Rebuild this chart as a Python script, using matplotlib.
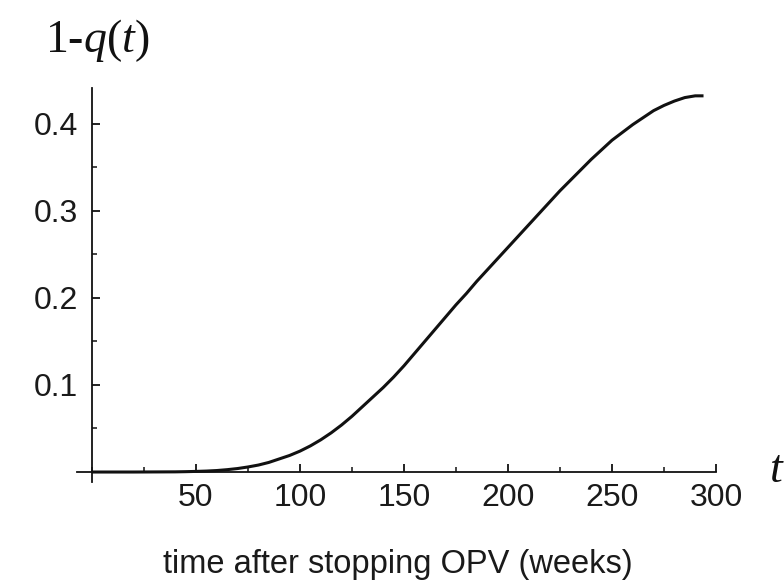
import matplotlib
matplotlib.use("Agg")
import matplotlib.pyplot as plt
from matplotlib.ticker import MultipleLocator

# values
t_weeks = [0, 20, 40, 45, 50, 55, 60, 65, 70, 75, 80, 85, 90, 95, 100, 105, 110,
           115, 120, 125, 130, 135, 140, 145, 150, 155, 160, 165, 170, 175, 180,
           185, 190, 195, 200, 205, 210, 215, 220, 225, 230, 235, 240, 245, 250,
           255, 260, 265, 270, 275, 280, 285, 290, 294]
one_minus_q = [0.0, 0.0, 0.0002, 0.0004, 0.0007, 0.0011, 0.0017, 0.0027, 0.004,
               0.0058, 0.008, 0.011, 0.015, 0.019, 0.024, 0.030, 0.037, 0.045,
               0.054, 0.064, 0.075, 0.086, 0.097, 0.109, 0.122, 0.136, 0.150,
               0.164, 0.178, 0.192, 0.205, 0.219, 0.232, 0.245, 0.258, 0.271,
               0.284, 0.297, 0.310, 0.323, 0.335, 0.347, 0.359, 0.370, 0.381,
               0.390, 0.399, 0.407, 0.415, 0.421, 0.426, 0.430, 0.432, 0.432]

x_major = [50, 100, 150, 200, 250, 300]
y_major = [0.1, 0.2, 0.3, 0.4]

plt.rcParams['mathtext.fontset'] = 'custom'
plt.rcParams['mathtext.rm'] = 'Liberation Serif'
plt.rcParams['mathtext.it'] = 'Liberation Serif:italic'

fig = plt.figure(figsize=(7.84, 5.83), dpi=100)
# axes placed so that data (0,0) lands near pixel (92, 472)
ax = fig.add_axes([77.4 / 784, (583 - 481.6) / 583, (716 - 77.4) / 784, (481.6 - 88) / 583])

ax.plot(t_weeks, one_minus_q, color='#111111', lw=2.2, solid_capstyle='butt',
        solid_joinstyle='round')

ax.set_xlim(-7, 300)
ax.set_ylim(-0.011, 0.441)

for s in ['top', 'right']:
    ax.spines[s].set_visible(False)
ax.spines['left'].set_position(('data', 0))
ax.spines['bottom'].set_position(('data', 0))
for s in ['left', 'bottom']:
    ax.spines[s].set_linewidth(1.3)
    ax.spines[s].set_color('#111111')

ax.set_xticks(x_major)
ax.set_xticklabels([str(v) for v in x_major])
ax.set_yticks(y_major)
ax.set_yticklabels([str(v) for v in y_major])
ax.xaxis.set_minor_locator(MultipleLocator(25))
ax.yaxis.set_minor_locator(MultipleLocator(0.05))
ax.tick_params(which='major', direction='in', length=6, width=1.3, color='#111111',
               labelsize=23, labelcolor='#1a1a1a')
ax.tick_params(which='minor', direction='in', length=3.5, width=1.1, color='#111111')
ax.tick_params(axis='x', which='major', pad=8)
ax.tick_params(axis='y', which='major', pad=10)
for lab in ax.get_xticklabels() + ax.get_yticklabels():
    lab.set_fontfamily('Liberation Sans')

fig.text(398 / 784, 1 - 564 / 583, 'time after stopping OPV (weeks)', ha='center', va='center',
         fontsize=23.5, fontfamily='Liberation Sans', color='#1a1a1a')
fig.text(45 / 784, 1 - 41 / 583, '1-$q$($t$)', ha='left', va='center',
         fontsize=33, fontfamily='Liberation Serif', color='#111111')
fig.text(769 / 784, 1 - 470 / 583, '$t$', ha='left', va='center',
         fontsize=33, color='#111111')

fig.savefig('out.png', dpi=100)
plt.close(fig)
